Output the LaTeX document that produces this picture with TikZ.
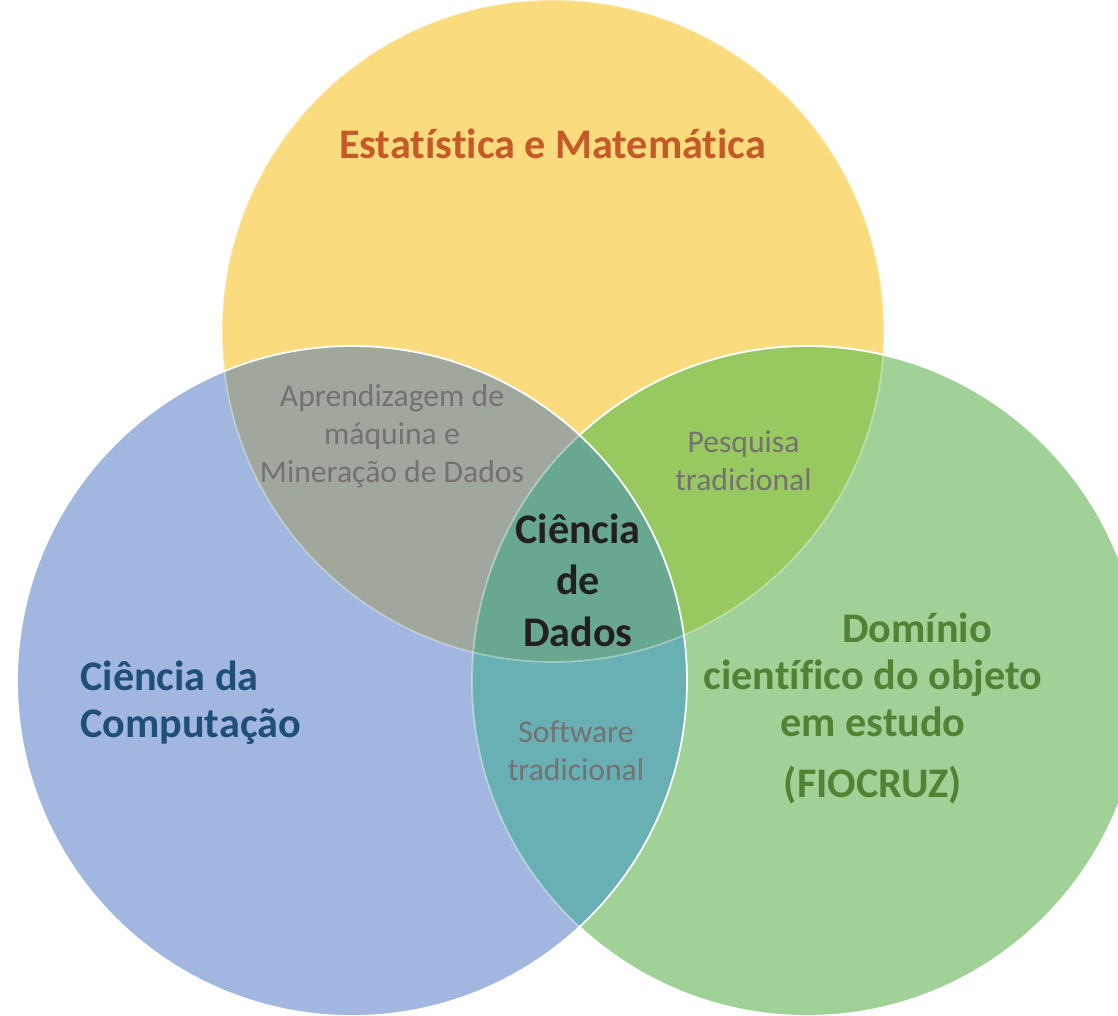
\documentclass[tikz,border=0pt]{standalone}
\usepackage{fontspec}
\setmainfont[Ligatures={NoCommon,NoContextual}]{Carlito}
\definecolor{estatfill}{HTML}{FADC7E}
\definecolor{compfill}{HTML}{A1B7E0}
\definecolor{domfill}{HTML}{A0D197}
\definecolor{ecfill}{HTML}{A0A89E}
\definecolor{edfill}{HTML}{98C960}
\definecolor{cdfill}{HTML}{68B0B4}
\definecolor{allfill}{HTML}{68A890}
\definecolor{estattext}{HTML}{C55A28}
\definecolor{comptext}{HTML}{1F4E79}
\definecolor{domtext}{HTML}{548235}
\definecolor{greytext}{HTML}{767171}
\definecolor{datatext}{HTML}{231F20}
\begin{document}
\begin{tikzpicture}
  [big/.style = {font=\bfseries\fontsize{24}{26.6}\selectfont, inner sep=0pt, align=center},
   small/.style = {text=greytext, font=\fontsize{18}{21.8}\selectfont, inner sep=0pt, align=center},
   rim/.style = {draw=white, line width=1pt}]
  \useasboundingbox (0,0) rectangle (22.36,-20.32);
  \coordinate (E) at (11.06,-6.62);
  \coordinate (C) at (7.04,-13.62);
  \coordinate (D) at (16.14,-13.62);
  % the three sets
  \fill[estatfill] (E) circle (6.62);
  \fill[compfill] (C) circle (6.70);
  \fill[domfill] (D) circle (6.70);
  \begin{scope}
    \clip (E) circle (6.62);
    \fill[ecfill] (C) circle (6.70);
    \fill[edfill] (D) circle (6.70);
  \end{scope}
  \begin{scope}
    \clip (C) circle (6.70);
    \fill[cdfill] (D) circle (6.70);
    \clip (E) circle (6.62);
    \fill[allfill] (D) circle (6.70);
  \end{scope}
  % rims
  \draw[rim, opacity=0.35] (E) circle (6.62);
  \draw[rim, opacity=0.4] (D) circle (6.70);
  \begin{scope}[even odd rule]
    \clip (0,0) rectangle (22.36,-20.32) (C) circle (6.70);
    \draw[rim] (D) circle (6.70);
  \end{scope}
  \draw[rim] (C) circle (6.70);
  % texts
  \node[big, text=estattext, anchor=base] (estat) at (11.05,-3.17) {Estatística e Matemática};
  \node[small] (aprend) at (7.84,-8.72) {Aprendizagem de\\máquina e\\Mineração de Dados};
  \node[small] (pesquisa) at (14.87,-9.22) {Pesquisa\\tradicional};
  \node[small] (software) at (11.52,-15.02) {Software\\tradicional};
  \node[big, text=datatext, font=\bfseries\fontsize{24}{29.3}\selectfont] (ciencia) at (11.56,-11.6) {Ciência\\de\\Dados};
  \node[big, text=comptext, align=left, anchor=west] (comput) at (1.6,-14.06) {Ciência da\\Computação};
  \node[big, text=domtext] (dominio) at (17.46,-13.5) {\hspace*{1.76cm}Domínio\\científico do objeto\\em estudo};
  \node[big, text=domtext, anchor=base] (fiocruz) at (17.46,-15.95) {(FIOCRUZ)};
\end{tikzpicture}
\end{document}
